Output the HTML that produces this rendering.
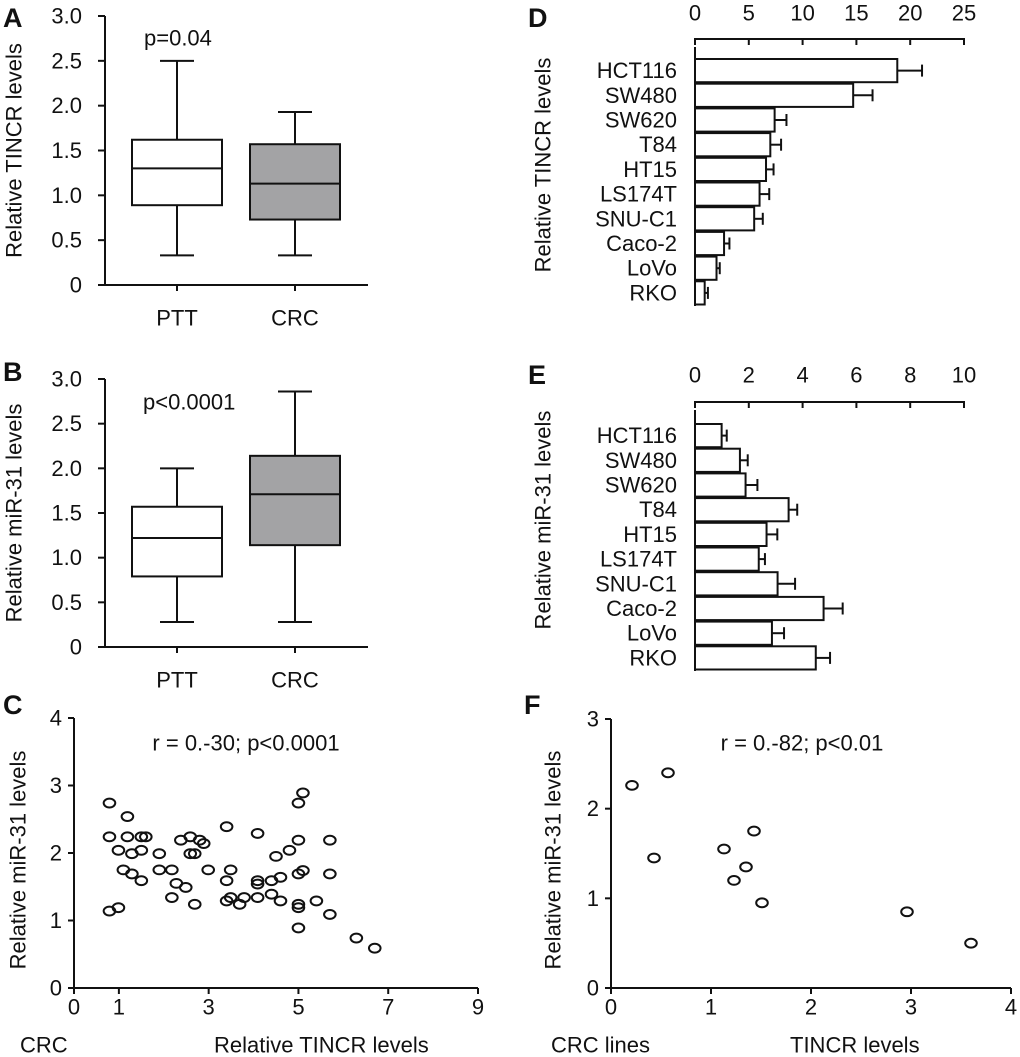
<!DOCTYPE html>
<html><head><meta charset="utf-8"><style>
html,body{margin:0;padding:0;background:#fff}
svg{display:block;font-family:"Liberation Sans",Arial,sans-serif}
</style></head><body>
<svg id="fig" width="1020" height="1057" viewBox="0 0 1020 1057" xmlns="http://www.w3.org/2000/svg"></svg>
<script>
// Panel A box stats [min,q1,median,q3,max]
const groupsAB = ["PTT","CRC"];
const boxA_PTT = [0.33,0.89,1.30,1.62,2.50];
const boxA_CRC = [0.33,0.73,1.13,1.57,1.93];
const boxB_PTT = [0.28,0.79,1.22,1.57,2.00];
const boxB_CRC = [0.28,1.14,1.71,2.14,2.86];
const boxTicks = ["0","0.5","1.0","1.5","2.0","2.5","3.0"];
const boxTickVals = [0,0.5,1,1.5,2,2.5,3];
// Panels D/E
const cellLines = ["HCT116","SW480","SW620","T84","HT15","LS174T","SNU-C1","Caco-2","LoVo","RKO"];
const tincrVals = [18.8,14.7,7.4,7.0,6.6,6.0,5.5,2.7,2.0,0.9];
const tincrErr  = [2.3,1.8,1.1,1.0,0.7,0.9,0.8,0.5,0.3,0.3];
const tincrTicks = [0,5,10,15,20,25];
const mirVals = [0.99,1.67,1.88,3.48,2.66,2.37,3.07,4.78,2.86,4.49];
const mirErr  = [0.19,0.29,0.44,0.32,0.40,0.23,0.65,0.71,0.45,0.53];
const mirTicks = [0,2,4,6,8,10];
// Panel C scatter
const cX = [0.79,0.79,0.79,0.99,0.99,1.19,1.19,1.29,1.1,1.29,1.5,1.6,1.5,1.5,1.9,1.9,2.18,2.28,2.18,2.49,2.38,2.59,2.59,2.69,2.69,2.8,2.89,2.99,3.4,3.4,3.4,3.49,3.49,3.69,3.79,4.09,4.09,4.09,4.09,4.4,4.4,4.5,4.6,4.6,4.8,5.0,5.1,5.0,5.0,5.1,5.0,5.0,5.0,5.4,5.7,5.7,5.7,6.29,6.7];
const cY = [2.74,2.24,1.14,1.19,2.04,2.54,2.24,1.99,1.75,1.69,2.24,2.24,2.04,1.59,1.99,1.75,1.75,1.55,1.34,1.49,2.19,2.24,1.99,1.99,1.24,2.19,2.14,1.75,2.39,1.59,1.29,1.75,1.34,1.24,1.34,2.29,1.59,1.54,1.34,1.59,1.39,1.95,1.64,1.29,2.04,2.74,2.89,2.19,1.69,1.74,1.24,1.19,0.89,1.29,2.19,1.69,1.09,0.74,0.59];
const cXTicks = [0,1,3,5,7,9];
const cYTicks = [0,1,2,3,4];
// Panel F scatter
const fX = [0.21,0.57,0.43,1.13,1.43,1.35,1.23,1.51,2.96,3.6];
const fY = [2.26,2.40,1.45,1.55,1.75,1.35,1.20,0.95,0.85,0.50];
const fXTicks = [0,1,2,3,4];
const fYTicks = [0,1,2,3];

const svg = document.getElementById('fig');
const NS = "http://www.w3.org/2000/svg";
function mk(tag, attrs, parent){
  const e = document.createElementNS(NS, tag);
  for (const k in attrs) e.setAttribute(k, attrs[k]);
  (parent||svg).appendChild(e);
  return e;
}
function line(x1,y1,x2,y2,p,w){return mk('line',{x1,y1,x2,y2,stroke:'#111','stroke-width':w||2},p);}
function text(x,y,s,p,opts){
  const o = Object.assign({'font-size':22,'text-anchor':'middle','dominant-baseline':'central',fill:'#111'},opts||{});
  o.x=x;o.y=y;
  const t = mk('text',o,p); t.textContent=s; return t;
}
function group(name){
  const g = mk('g',{});
  
  
  return g;
}
function panelLabel(s,x,y){
  const t = text(x,y,s,svg,{'font-size':27,'font-weight':'bold','text-anchor':'start'});
  
  
}

// Box plots
function boxPanel(name, y0, y3, label, ptext, ptx, pty, data){
  const g = group(name);
  const ax = 105, xEnd = 368;
  const ys = v => y0 - (v/3)*(y0-y3);
  line(ax,y3,ax,y0+1,g); line(ax-1,y0,xEnd,y0,g);
  boxTickVals.forEach((v,i)=>{ line(ax-7,ys(v),ax,ys(v),g); text(82,ys(v),boxTicks[i],g,{'text-anchor':'end'}); });
  const cx = [177,295];
  const fills = ['#fff','#a3a3a5'];
  data.forEach((d,i)=>{
    const c = cx[i];
    line(c,y0,c,y0+6,g);
    const bg = mk('g',{},g);
    
    
    line(c,ys(d[0]),c,ys(d[1]),bg); line(c,ys(d[3]),c,ys(d[4]),bg);
    line(c-17,ys(d[0]),c+17,ys(d[0]),bg); line(c-17,ys(d[4]),c+17,ys(d[4]),bg);
    mk('rect',{x:c-45,y:ys(d[3]),width:90,height:ys(d[1])-ys(d[3]),fill:fills[i],stroke:'#111','stroke-width':2},bg);
    line(c-45,ys(d[2]),c+45,ys(d[2]),bg);
    text(c,y0+33,groupsAB[i],g);
  });
  text(ptx,pty,ptext,g,{'text-anchor':'start'});
  text(14,(y0+y3)/2,label,g,{transform:`rotate(-90 14 ${(y0+y3)/2})`});
}
boxPanel('panel-a-box-plot',285,16,'Relative TINCR levels','p=0.04',144,38,[boxA_PTT,boxA_CRC]);
boxPanel('panel-b-box-plot',647,379,'Relative miR-31 levels','p<0.0001',143,402,[boxB_PTT,boxB_CRC]);
panelLabel('A',3,18); panelLabel('B',3,372);

// Bar panels
function barPanel(name, axisY, tickY, barTop, maxV, ticks, vals, errs, label, labelY){
  const g = group(name);
  const x0 = 695, x1 = 964;
  const xs = v => x0 + v/maxV*(x1-x0);
  line(x0-1,axisY,x1+1,axisY,g);
  ticks.forEach(t=>{ line(xs(t),axisY-1,xs(t),axisY+6,g); text(xs(t),tickY,String(t),g); });
  const pitch = 24.7;
  line(x0,axisY+8,x0,barTop+pitch*10,g);
  cellLines.forEach((c,i)=>{
    const y = barTop + i*pitch;
    const bg = mk('g',{},g);
    
    
    mk('rect',{x:x0,y:y,width:xs(vals[i])-x0,height:pitch-1.5,fill:'#fff',stroke:'#111','stroke-width':2},bg);
    const cy = y + (pitch-1.5)/2;
    line(xs(vals[i]),cy,xs(vals[i]+errs[i]),cy,bg);
    line(xs(vals[i]+errs[i]),cy-6,xs(vals[i]+errs[i]),cy+6,bg);
    text(677,cy,c,g,{'text-anchor':'end'});
  });
  text(543,labelY,label,g,{transform:`rotate(-90 543 ${labelY})`});
}
barPanel('panel-d-bar-chart',39,13,59,25,tincrTicks,tincrVals,tincrErr,'Relative TINCR levels',165);
barPanel('panel-e-bar-chart',402,375,424,10,mirTicks,mirVals,mirErr,'Relative miR-31 levels',520);
panelLabel('D',528,18); panelLabel('E',528,375);

// Scatter panels
function scatterPanel(name, ax, y0, yTop, xEndPx, xMax, yMax, xTicks, yTicks, xs_, ys_, rtext, rx, bottomL, bottomLx, bottomR, bottomRx, label, lx){
  const g = group(name);
  const sx = v => ax + v/xMax*(xEndPx-ax);
  const sy = v => y0 - v/yMax*(y0-yTop);
  line(ax,yTop,ax,y0+1,g); line(ax-1,y0,xEndPx,y0,g);
  yTicks.forEach(t=>{ line(ax-6,sy(t),ax,sy(t),g); text(ax-12,sy(t),String(t),g,{'text-anchor':'end'}); });
  xTicks.forEach(t=>{ line(sx(t),y0,sx(t),y0+6,g); text(sx(t),y0+19,String(t),g); });
  xs_.forEach((x,i)=>{
    const c = mk('ellipse',{cx:sx(x),cy:sy(ys_[i]),rx:5.8,ry:4.4,fill:'none',stroke:'#111','stroke-width':2},g);
    
    
  });
  text(rx,743,rtext,g);
  text(bottomLx,1045,bottomL,g,{'text-anchor':'start'});
  text(bottomRx,1045,bottomR,g,{'text-anchor':'start'});
  text(lx,860,label,g,{transform:`rotate(-90 ${lx} 860)`});
}
scatterPanel('panel-c-scatter',74,988,718,478,9,4,cXTicks,cYTicks,cX,cY,'r = 0.-30; p<0.0001',246,'CRC',20,'Relative TINCR levels',214,'Relative miR-31 levels',18);
scatterPanel('panel-f-scatter',611,988,719,1011,4,3,fXTicks,fYTicks,fX,fY,'r = 0.-82; p<0.01',802,'CRC lines',551,'TINCR levels',790,'Relative miR-31 levels',553);
panelLabel('C',3,705); panelLabel('F',524,705);
</script>
</body></html>
